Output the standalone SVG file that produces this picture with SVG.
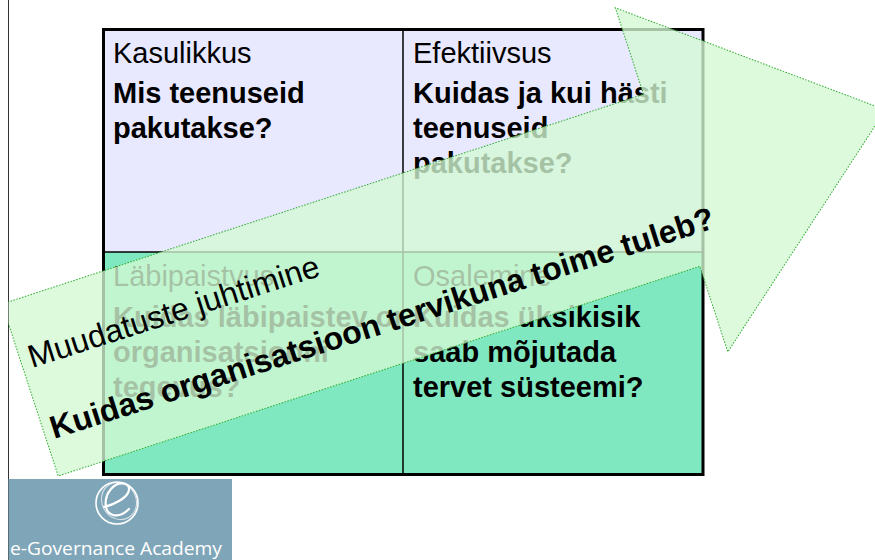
<svg xmlns="http://www.w3.org/2000/svg" width="875" height="560" viewBox="0 0 875 560">
<defs>
<style>
.h{font-family:"Liberation Sans",Arial,sans-serif;font-size:29px;fill:#000}
.b{font-family:"Liberation Sans",Arial,sans-serif;font-size:29px;font-weight:bold;fill:#000}
.at{font-family:"Liberation Sans",Arial,sans-serif;font-size:32px;fill:#000}
.atb{font-family:"Liberation Sans",Arial,sans-serif;font-size:32px;font-weight:bold;fill:#000}
.line{stroke:#000;stroke-width:1.5;fill:none}
</style>
<clipPath id="slide"><rect x="8.5" y="0" width="870" height="560"/></clipPath>
</defs>
<rect x="0" y="0" width="875" height="560" fill="#fff"/>
<line x1="8.5" y1="0" x2="8.5" y2="560" stroke="#333" stroke-width="1"/>

<g id="cell-kasulikkus">
<rect x="103.5" y="29.5" width="299.5" height="222.5" fill="#E8E8FF"/>
<text class="h" x="113" y="63">Kasulikkus</text>
<text class="b" x="113" y="103">Mis teenuseid</text>
<text class="b" x="113" y="138">pakutakse?</text>
</g>
<g id="cell-efektiivsus">
<rect x="403" y="29.5" width="300" height="222.5" fill="#E8E8FF"/>
<text class="h" x="413" y="63">Efektiivsus</text>
<text class="b" x="413" y="103">Kuidas ja kui hästi</text>
<text class="b" x="413" y="138">teenuseid</text>
<text class="b" x="413" y="173">pakutakse?</text>
</g>
<g id="cell-labipaistvus">
<rect x="103.5" y="252" width="299.5" height="222.5" fill="#80E8C0"/>
<text class="h" x="113" y="286">Läbipaistvus</text>
<text class="b" x="113" y="327">Kuidas läbipaistev on</text>
<text class="b" x="113" y="362">organisatsiooni</text>
<text class="b" x="113" y="397">tegevus?</text>
</g>
<g id="cell-osalemine">
<rect x="403" y="252" width="300" height="222.5" fill="#80E8C0"/>
<text class="h" x="413" y="286">Osalemine</text>
<text class="b" x="413" y="327">Kuidas üksikisik</text>
<text class="b" x="413" y="362">saab mõjutada</text>
<text class="b" x="413" y="397">tervet süsteemi?</text>
</g>
<g id="table-lines">
<line class="line" x1="403" y1="29.5" x2="403" y2="474.5"/>
<line class="line" x1="103.5" y1="252" x2="703" y2="252"/>
<rect x="103.5" y="29.5" width="599.5" height="445" fill="none" stroke="#000" stroke-width="3"/>
</g>

<g id="arrow" clip-path="url(#slide)">
<polygon transform="translate(2,304) rotate(-18.1)" points="0,0 675,0 675,-91 900,90 675,271 675,181 0,181" fill="#D4F8D4" fill-opacity="0.78" stroke="#2EAA2E" stroke-width="1" stroke-dasharray="1.5 1.5"/>
<text class="at" x="32" y="368" transform="rotate(-17.7 32 368)">Muudatuste juhtimine</text>
<text class="atb" x="54" y="439" transform="rotate(-17.7 54 439)">Kuidas organisatsioon tervikuna toime tuleb?</text>
</g>

<g id="logo">
<rect x="8.5" y="479" width="223.5" height="81" fill="#7FA6B8"/>
<g fill="none" stroke="#fff" stroke-linecap="round">
<circle cx="117" cy="503" r="21" stroke-width="1.6"/>
<ellipse cx="119" cy="501" rx="17" ry="19" stroke-width="1" stroke-opacity="0.7" transform="rotate(-30 119 501)"/>
<path d="M104,507 C113,505 128,498 129,490 C130,482 118,481 111,489 C104,497 103,512 113,515 C120,517 126,512 129,509" stroke-width="2.2"/>
</g>
<text x="10" y="555" font-family="'Open Sans','DejaVu Sans',sans-serif" font-size="19" fill="#fff" textLength="212" lengthAdjust="spacingAndGlyphs">e-Governance Academy</text>
</g>
</svg>
